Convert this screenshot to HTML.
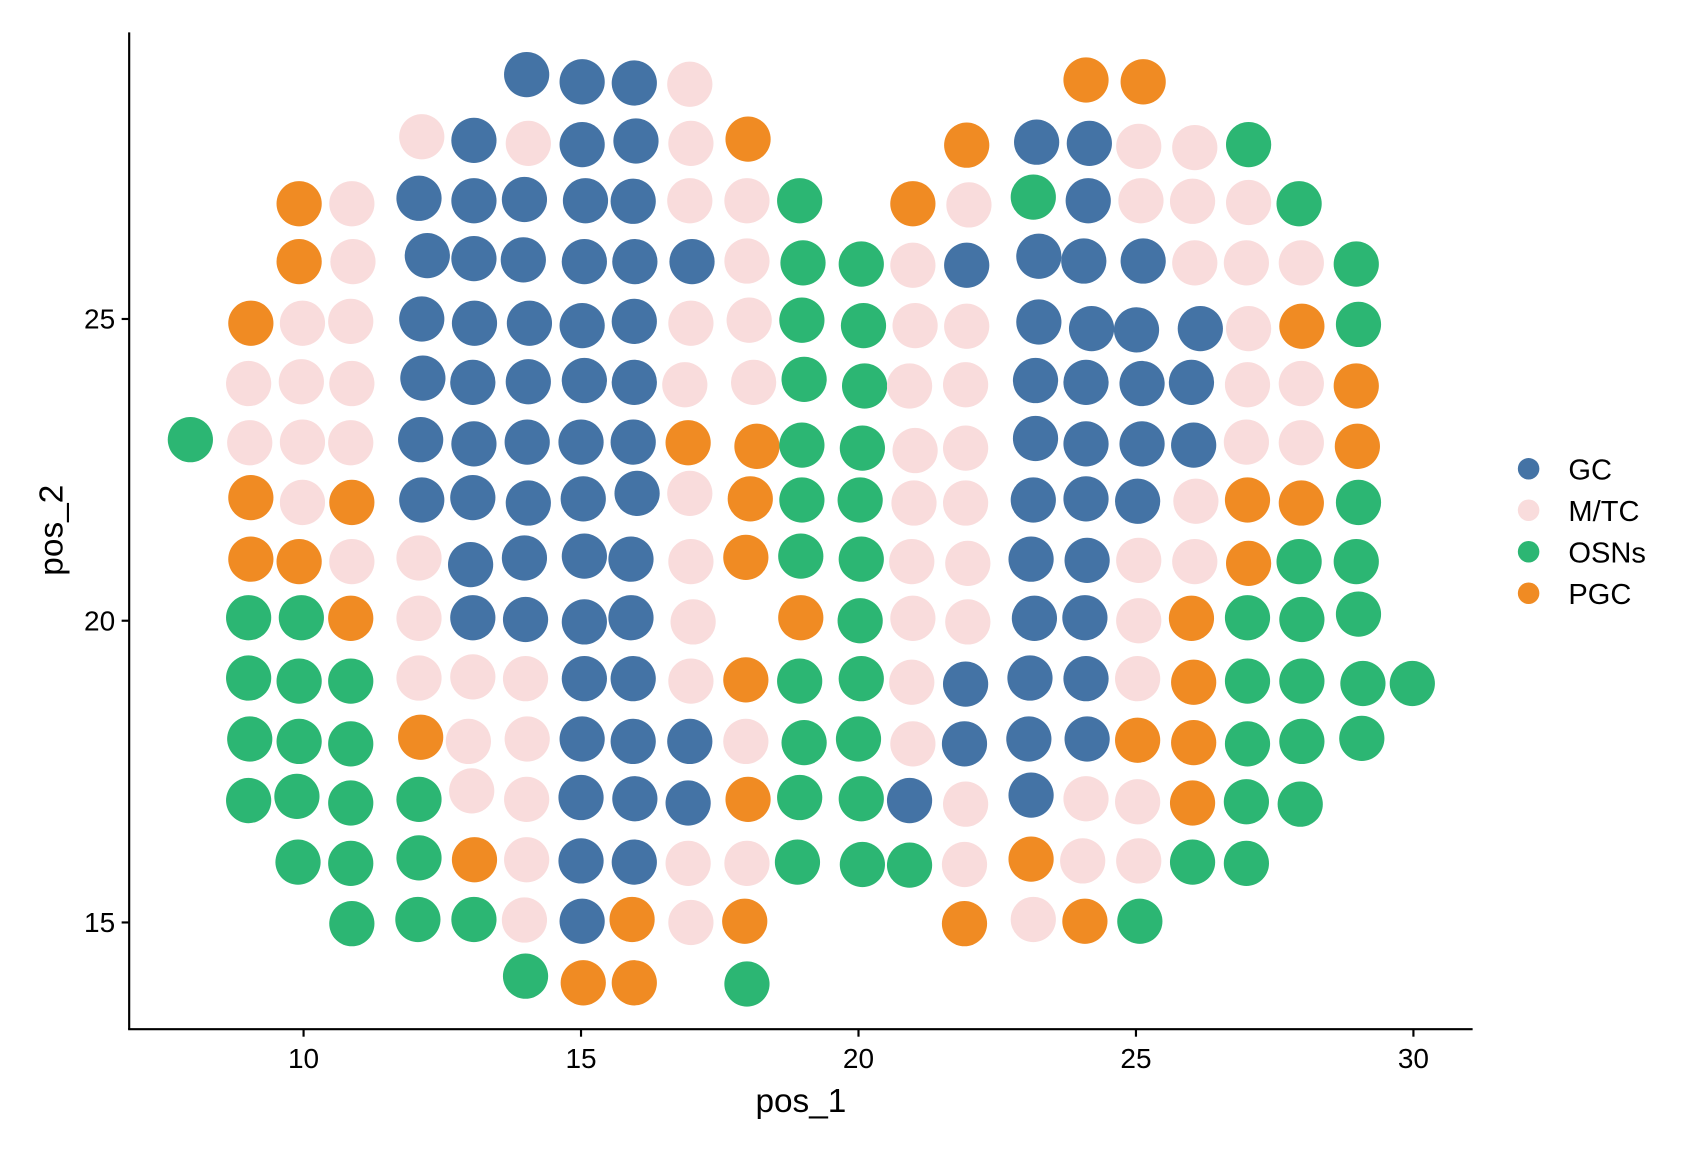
<!DOCTYPE html>
<html><head><meta charset="utf-8"><style>
html,body{margin:0;padding:0;background:#fff;}
svg{display:block;font-family:"Liberation Sans",Arial,sans-serif;}
</style></head><body>
<svg id="chart" width="1689" height="1152" viewBox="0 0 1569 1069" preserveAspectRatio="none" xmlns="http://www.w3.org/2000/svg">
<g id="points"></g>
<g id="axes"></g>
<g id="legend"></g>
</svg>
<script>
const xs = [
14.02,15.02,15.96,16.96,24.1,25.13,
12.13,13.07,14.05,15.02,15.99,16.98,18.01,21.95,23.21,24.16,25.05,26.06,27.03,
9.92,10.87,12.08,13.07,13.98,15.08,15.94,16.96,17.99,18.94,20.98,21.99,23.15,24.14,25.09,26.02,27.03,27.94,
9.92,10.89,12.23,13.07,13.96,15.06,15.97,17.0,17.99,19.0,20.05,20.98,21.95,23.25,24.06,25.13,26.06,26.99,27.98,28.97,
9.05,9.98,10.85,12.13,13.08,14.07,15.02,15.96,16.98,18.03,18.98,20.09,21.02,21.95,23.25,24.2,25.01,26.16,27.03,27.99,29.01,
9.01,9.96,10.87,12.15,13.05,14.05,15.06,15.96,16.87,18.11,19.02,20.11,20.92,21.93,23.19,24.1,25.11,26.0,27.01,27.98,28.97,
7.96,9.03,9.98,10.85,12.11,13.07,14.03,15.0,15.94,16.93,18.17,18.98,20.07,21.02,21.93,23.19,24.1,25.11,26.04,26.99,27.98,28.99,
9.05,9.98,10.87,12.13,13.05,14.05,15.04,16.01,16.96,18.05,18.98,20.03,21.0,21.93,23.15,24.1,25.03,26.08,27.01,27.98,29.01,
9.05,9.92,10.87,12.08,13.01,13.98,15.06,15.9,16.98,17.97,18.96,20.05,20.96,21.97,23.11,24.12,25.05,26.06,27.03,27.94,28.97,
9.01,9.96,10.85,12.08,13.05,14.0,15.06,15.9,17.02,18.96,20.03,20.98,21.97,23.17,24.08,25.05,26.0,27.01,27.99,29.01,
9.01,9.92,10.85,12.08,13.05,14.0,15.06,15.94,16.98,17.97,18.94,20.05,20.96,21.93,23.09,24.1,25.03,26.04,27.01,27.99,29.09,29.98,
9.03,9.92,10.85,12.11,12.97,14.03,15.02,15.94,16.96,17.97,19.02,20.0,20.98,21.91,23.07,24.12,25.03,26.04,27.01,27.99,29.07,
9.01,9.88,10.85,12.08,13.03,14.02,15.0,15.97,16.93,18.01,18.94,20.05,20.92,21.93,23.11,24.1,25.03,26.02,26.99,27.96,
9.9,10.85,12.08,13.08,14.02,15.0,15.96,16.93,17.99,18.9,20.07,20.92,21.91,23.11,24.04,25.05,26.02,26.99,
10.87,12.06,13.07,13.98,15.02,15.92,16.98,17.95,21.91,23.15,24.08,25.07,
14.0,15.04,15.96,17.99
];
const ys = [
29.05,28.93,28.91,28.89,28.96,28.93,
28.02,27.96,27.91,27.89,27.95,27.91,27.98,27.88,27.93,27.91,27.86,27.84,27.89,
26.91,26.91,27.0,26.96,26.98,26.96,26.95,26.96,26.96,26.96,26.91,26.89,27.02,26.96,26.96,26.95,26.93,26.91,
25.95,25.95,26.05,26.0,25.98,25.95,25.95,25.95,25.96,25.93,25.91,25.89,25.89,26.04,25.96,25.96,25.93,25.93,25.93,25.91,
24.93,24.93,24.96,25.0,24.93,24.93,24.89,24.96,24.93,24.98,24.98,24.89,24.89,24.88,24.95,24.84,24.82,24.84,24.84,24.88,24.91,
23.93,23.96,23.93,24.02,23.95,23.96,23.98,23.95,23.91,23.95,24.0,23.89,23.89,23.91,23.98,23.95,23.93,23.95,23.91,23.93,23.89,
23.0,22.95,22.96,22.95,23.0,22.93,22.96,22.96,22.96,22.95,22.89,22.91,22.86,22.82,22.86,23.02,22.93,22.93,22.91,22.96,22.95,22.89,
22.04,21.96,21.96,22.0,22.04,21.95,22.02,22.11,22.11,22.02,22.0,22.0,21.95,21.95,22.0,22.02,21.98,21.98,22.0,21.95,21.96,
21.02,20.98,20.98,21.04,20.93,21.04,21.07,21.02,20.98,21.05,21.07,21.02,20.98,20.95,21.02,21.0,21.0,20.98,20.95,20.98,20.98,
20.05,20.05,20.04,20.04,20.05,20.02,19.98,20.05,19.98,20.05,20.0,20.04,19.98,20.04,20.05,20.0,20.04,20.05,20.02,20.11,
19.05,19.0,19.0,19.05,19.07,19.04,19.04,19.04,19.0,19.02,19.0,19.04,18.98,18.95,19.05,19.04,19.04,18.98,19.0,19.0,18.96,18.96,
18.04,18.0,17.96,18.07,18.0,18.04,18.04,18.0,18.0,18.0,17.98,18.04,17.96,17.96,18.04,18.04,18.02,17.98,17.96,18.0,18.05,
17.02,17.09,16.98,17.04,17.18,17.04,17.07,17.05,16.98,17.04,17.07,17.05,17.02,16.96,17.11,17.05,17.0,16.98,17.0,16.96,
16.0,15.98,16.07,16.04,16.04,16.02,16.0,15.98,15.98,16.0,15.96,15.95,15.96,16.05,16.02,16.02,16.0,15.98,
14.98,15.05,15.05,15.04,15.02,15.05,15.0,15.02,14.98,15.05,15.02,15.02,
14.11,14.0,14.0,13.98
];
const cellTypes = (
"GGGMPP"+
"MGMGGMPPGGMMO"+
"PMGGGGGMMOPMOGMMMO"+
"PMGGGGGGMOOMGGGGMMMO"+
"PMMGGGGGMMOOMMGGGGMPO"+
"MMMGGGGGMMOOMMGGGGMMP"+
"OMMMGGGGGPPOOMMGGGGMMP"+
"PMPGGGGGMPOOMMGGGMPPO"+
"PPMMGGGGMPOOMMGGMMPOO"+
"OOPMGGGGMPOMMGGMPOOO"+
"OOOMMMGGMPOOMGGGMPOOOO"+
"OOOPMMGGGMOOMGGGPPOOO"+
"OOOOMMGGGPOOGMGMMPOO"+
"OOOPMGGMMOOOMPMMOO"+
"OOOMGPMPPMPO"+
"OPPO").split("");
const categories = ["GC","M/TC","OSNs","PGC"];
const categoryCodes = ["G","M","O","P"];
const xTicks = [10,15,20,25,30];
const yTicks = [15,20,25];

const colors = {G:"#4473a5",M:"#f9dcdc",O:"#2cb673",P:"#f08b23"};
const NS="http://www.w3.org/2000/svg";
function xScale(v){return 282 + (v-10)*51.55;}
function yScale(v){return 856 - (v-15)*56;}
function mk(tag,attrs,parent){const e=document.createElementNS(NS,tag);for(const k in attrs)e.setAttribute(k,attrs[k]);parent.appendChild(e);return e;}

const pts=document.getElementById('points');
for(let i=0;i<xs.length;i++){
  const c=mk('circle',{cx:xScale(xs[i]),cy:yScale(ys[i]),r:21,fill:colors[cellTypes[i]]},pts);
  
  
}
const ax=document.getElementById('axes');
const yl=mk('line',{x1:120,y1:30,x2:120,y2:955,stroke:'#000','stroke-width':2},ax);


const xl=mk('line',{x1:119,y1:955,x2:1368,y2:955,stroke:'#000','stroke-width':2},ax);


xTicks.forEach(t=>{
  const x=xScale(t);
  const tk=mk('line',{x1:x,y1:955,x2:x,y2:962,stroke:'#000','stroke-width':2},ax);
  
  
  const tx=mk('text',{x:x,y:991,'text-anchor':'middle','font-size':26,fill:'#000'},ax);
  tx.textContent=t;
  
  
});
yTicks.forEach(t=>{
  const y=yScale(t);
  const tk=mk('line',{x1:113,y1:y,x2:120,y2:y,stroke:'#000','stroke-width':2},ax);
  
  
  const tx=mk('text',{x:107,y:y+9,'text-anchor':'end','font-size':26,fill:'#000'},ax);
  tx.textContent=t;
  
  
});
const xt=mk('text',{x:744,y:1032,'text-anchor':'middle','font-size':31,fill:'#000'},ax);
xt.textContent='pos_1';


const yt=mk('text',{x:0,y:0,'text-anchor':'middle','font-size':31,fill:'#000',transform:'translate(58,492) rotate(-90)'},ax);
yt.textContent='pos_2';



const lg=document.getElementById('legend');
categories.forEach((c,i)=>{
  const y=435+i*38.5;
  const g=mk('g',{},lg);
  
  
  mk('circle',{cx:1420,cy:y,r:10,fill:colors[categoryCodes[i]]},g);
  const t=mk('text',{x:1457,y:y+10,'font-size':27,fill:'#000'},g);
  t.textContent=c;
});
</script>
</body></html>
